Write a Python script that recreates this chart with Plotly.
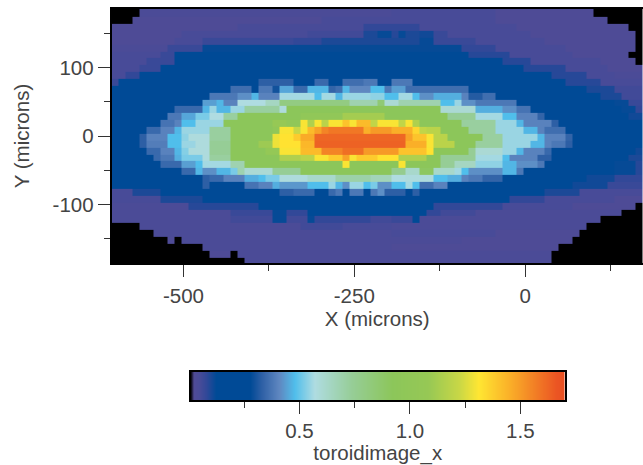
import numpy as np
import plotly.graph_objects as go

# Each row: alternating (stop column, value in hundredths), top to bottom
row_00 = [4,0, 40,4, 55,5, 69,3, 76,0]
row_01 = [3,0, 30,3, 42,5, 55,5, 71,3, 76,0]
row_02 = [18,3, 36,5, 44,8, 58,5, 74,3, 76,0]
row_03 = [10,3, 28,5, 36,6, 38,10, 40,12, 41,9, 42,12, 44,10, 46,11, 48,7, 60,5, 75,3, 76,0]
row_04 = [9,3, 13,5, 26,7, 30,8, 44,10, 46,12, 52,7, 62,5, 75,3, 76,0]
row_05 = [8,4, 13,7, 50,12, 55,8, 65,5, 75,3, 76,0]
row_06 = [7,5, 9,7, 51,14, 57,9, 66,5, 74,3, 76,0]
row_07 = [5,5, 9,7, 56,14, 60,9, 70,5, 75,3, 76,0]
row_08 = [4,5, 7,7, 59,16, 65,9, 71,5, 76,3]
row_09 = [2,5, 4,8, 40,20, 63,18, 68,9, 72,5, 76,4]
row_10 = [1,7, 21,20, 26,33, 29,22, 31,35, 33,22, 36,36, 38,38, 40,22, 43,38, 65,18, 70,9, 76,5]
row_11 = [17,20, 20,36, 21,24, 23,38, 24,30, 26,45, 28,35, 31,47, 32,34, 33,36, 34,47, 37,41, 39,48, 40,38, 42,44, 43,36, 51,36, 68,20, 72,10, 76,6]
row_12 = [14,20, 18,38, 20,42, 21,47, 24,40, 29,56, 30,48, 32,56, 33,47, 37,55, 39,54, 41,48, 43,56, 44,48, 46,42, 50,46, 51,40, 53,32, 55,36, 70,20, 73,10, 76,6]
row_13 = [13,22, 15,44, 16,47, 18,40, 22,57, 24,64, 34,80, 38,68, 39,84, 41,60, 47,68, 49,48, 50,55, 52,42, 58,38, 72,20, 74,12, 76,7]
row_14 = [9,22, 13,35, 14,47, 15,55, 17,47, 19,55, 24,72, 25,58, 47,92, 52,60, 56,46, 58,42, 60,37, 73,20, 75,12, 76,8]
row_15 = [8,20, 10,38, 12,45, 14,52, 16,57, 18,72, 27,92, 33,100, 39,112, 48,92, 52,74, 56,56, 58,48, 61,40, 62,34, 74,20, 76,11]
row_16 = [7,20, 9,37, 10,40, 12,48, 16,55, 23,92, 25,108, 27,100, 28,130, 29,115, 30,130, 31,118, 33,130, 34,140, 35,130, 37,142, 38,120, 41,130, 42,120, 43,130, 44,115, 50,92, 55,72, 58,55, 59,47, 63,40, 64,33, 75,20, 76,14]
row_17 = [5,20, 7,35, 9,40, 10,47, 14,55, 17,72, 23,92, 24,100, 26,130, 27,122, 28,130, 29,142, 30,148, 31,155, 36,158, 37,145, 40,150, 43,145, 44,135, 45,120, 47,118, 51,92, 55,72, 59,55, 61,47, 62,40, 65,36, 75,20, 76,14]
row_18 = [4,18, 5,33, 8,40, 10,48, 11,54, 14,58, 17,72, 23,92, 24,128, 26,132, 27,138, 29,146, 42,162, 43,148, 45,140, 46,130, 48,118, 53,92, 56,72, 61,55, 62,47, 65,40, 66,34, 76,20]
row_19 = [4,18, 5,33, 8,39, 10,48, 12,55, 14,58, 17,74, 21,92, 23,110, 24,128, 27,132, 29,143, 42,163, 45,145, 46,130, 49,118, 52,92, 56,72, 60,55, 62,47, 63,40, 65,38, 66,33, 76,20]
row_20 = [5,20, 7,35, 9,40, 10,47, 11,53, 14,58, 17,74, 22,92, 24,105, 27,130, 30,142, 33,155, 36,160, 41,150, 45,140, 46,132, 51,92, 52,74, 56,60, 58,55, 59,47, 62,40, 63,35, 75,20, 76,11]
row_21 = [6,20, 7,35, 9,38, 10,46, 13,52, 14,58, 17,72, 24,92, 27,115, 29,118, 31,130, 33,138, 34,148, 35,130, 38,138, 41,132, 45,115, 47,92, 52,74, 56,56, 57,48, 61,40, 63,33, 74,20, 76,10]
row_22 = [7,20, 10,35, 12,44, 13,48, 17,56, 19,68, 33,92, 34,130, 41,92, 42,130, 47,92, 49,74, 52,64, 56,54, 58,47, 61,42, 62,38, 72,20, 75,12, 76,9]
row_23 = [10,20, 12,35, 13,47, 15,42, 17,47, 18,52, 19,68, 23,60, 27,74, 40,92, 42,76, 44,62, 46,90, 49,62, 50,56, 51,48, 56,42, 58,47, 59,38, 72,20, 75,12, 76,9]
row_24 = [13,20, 14,33, 16,35, 19,40, 21,46, 22,48, 24,52, 28,58, 32,62, 37,70, 40,66, 42,57, 46,58, 48,48, 50,46, 51,40, 53,38, 56,34, 68,20, 72,11, 76,8]
row_25 = [13,20, 14,33, 19,20, 21,37, 23,40, 24,46, 28,43, 31,48, 32,55, 33,47, 34,42, 36,55, 37,48, 38,52, 40,42, 42,48, 43,56, 44,48, 46,36, 48,40, 66,20, 71,11, 76,7]
row_26 = [3,5, 7,10, 24,20, 26,33, 29,35, 31,22, 32,35, 33,38, 34,24, 36,38, 37,22, 38,38, 39,42, 42,33, 43,22, 44,33, 62,20, 67,10, 76,5]
row_27 = [7,5, 13,10, 29,16, 30,28, 33,16, 34,28, 57,16, 62,8, 72,5, 75,3, 76,3]
row_28 = [11,4, 21,9, 46,14, 56,8, 66,5, 75,3, 76,0]
row_29 = [17,4, 23,7, 25,12, 28,8, 41,13, 45,14, 47,8, 52,6, 73,4, 76,0]
row_30 = [17,4, 23,6, 25,12, 28,6, 29,12, 37,8, 40,6, 43,7, 44,14, 70,4, 76,0]
row_31 = [4,0, 27,4, 33,6, 40,5, 68,4, 76,0]
row_32 = [6,0, 40,4, 55,5, 67,3, 76,0]
row_33 = [8,0, 9,3, 10,0, 50,4, 66,3, 76,0]
row_34 = [13,0, 40,4, 64,3, 76,0]
row_35 = [14,0, 17,3, 18,0, 63,4, 76,0]
row_36 = [19,0, 63,4, 76,0]

rows = [row_00, row_01, row_02, row_03, row_04, row_05, row_06, row_07, row_08, row_09,
        row_10, row_11, row_12, row_13, row_14, row_15, row_16, row_17, row_18, row_19,
        row_20, row_21, row_22, row_23, row_24, row_25, row_26, row_27, row_28, row_29,
        row_30, row_31, row_32, row_33, row_34, row_35, row_36]


def expand(row):
    out, start = [], 0
    for stop, val in zip(row[0::2], row[1::2]):
        out += [val / 100] * (stop - start)
        start = stop
    return out


z = [expand(r) for r in rows]

x_edges = [-605.3 + 10.23 * k for k in range(77)]
y_edges = [190.0] + [173.7 - 10.03 * k for k in range(36)] + [-190.0]

z_min, z_max = 0.009, 1.70
stops = [
    (0.009, "rgb(0,0,0)"), (0.014, "rgb(20,18,40)"), (0.025, "rgb(80,75,150)"),
    (0.05, "rgb(72,75,152)"), (0.08, "rgb(50,72,152)"), (0.125, "rgb(0,74,150)"),
    (0.28, "rgb(0,74,150)"), (0.33, "rgb(45,95,165)"), (0.41, "rgb(95,135,192)"),
    (0.48, "rgb(80,190,235)"), (0.57, "rgb(175,220,225)"), (0.74, "rgb(150,205,150)"),
    (0.92, "rgb(140,198,90)"), (1.08, "rgb(150,200,85)"), (1.22, "rgb(200,215,70)"),
    (1.31, "rgb(255,230,50)"), (1.45, "rgb(250,175,40)"), (1.66, "rgb(235,85,35)"),
    (1.70, "rgb(232,78,33)"),
]
colorscale = [[(v - z_min) / (z_max - z_min), c] for v, c in stops]

bar_values = list(np.linspace(z_min, z_max, 376))

W, H = 643, 465
FONT = "Liberation Sans"
FS = 20.5
INK = "#444444"
axis_style = dict(showline=True, linecolor="black", linewidth=1.5,
                  ticks="outside", tickcolor="#333333", tickwidth=1, ticklen=12,
                  showgrid=False, zeroline=False,
                  tickfont=dict(family=FONT, size=FS, color=INK))

fig = go.Figure()
fig.add_trace(go.Heatmap(z=z, x=x_edges, y=y_edges, xaxis="x", yaxis="y",
                         colorscale=colorscale, zmin=z_min, zmax=z_max,
                         showscale=False, hoverinfo="skip", xgap=0, ygap=0))
fig.add_trace(go.Heatmap(z=[bar_values], x=bar_values, y=[0], xaxis="x2", yaxis="y2",
                         colorscale=colorscale, zmin=z_min, zmax=z_max,
                         showscale=False, hoverinfo="skip"))

fig.update_layout(
    width=W, height=H, margin=dict(l=0, r=0, t=0, b=0),
    paper_bgcolor="white", plot_bgcolor="white", showlegend=False,
    xaxis=dict(domain=[111.5 / W, 1], range=[-605.3, 172.5], anchor="y", mirror=True,
               tickvals=[-500, -250, 0], ticktext=["-500", "-250", "0"], ticklabelstandoff=2,
               minor=dict(tickvals=[-375, -125, 125], ticks="outside", ticklen=6,
                          tickcolor="#333333", tickwidth=1),
               title=dict(text="X (microns)", standoff=3,
                          font=dict(family=FONT, size=FS, color=INK)),
               **axis_style),
    yaxis=dict(domain=[1 - 263 / H, 1 - 9 / H], range=[-185.4, 185.4], anchor="x", mirror=False,
               tickvals=[-100, 0, 100], ticktext=["-100", "0", "100"],
               minor=dict(tickvals=[-150, -50, 50, 150], ticks="outside", ticklen=6,
                          tickcolor="#333333", tickwidth=1),
               title=dict(text="Y (microns)", standoff=17,
                          font=dict(family=FONT, size=FS, color=INK)),
               **axis_style),
    xaxis2=dict(domain=[191 / W, 564.5 / W], range=[z_min, z_max], anchor="y2", mirror=True,
                tickvals=[0.5, 1.0, 1.5], ticktext=["0.5", "1.0", "1.5"],
                minor=dict(tickvals=[0.25, 0.75, 1.25], ticks="outside", ticklen=6,
                           tickcolor="#333333", tickwidth=1),
                title=dict(text="toroidimage_x", standoff=5,
                           font=dict(family=FONT, size=FS, color=INK)),
                **axis_style),
    yaxis2=dict(domain=[1 - 400 / H, 1 - 372 / H], range=[-0.5, 0.5], anchor="x2",
                showticklabels=False, ticks="", showline=True, linecolor="black",
                linewidth=1.5, mirror=True, showgrid=False, zeroline=False),
)

fig.write_html("out.html", config=dict(displayModeBar=False),
               post_script="document.body.style.margin='0';document.documentElement.style.overflow='hidden';")
